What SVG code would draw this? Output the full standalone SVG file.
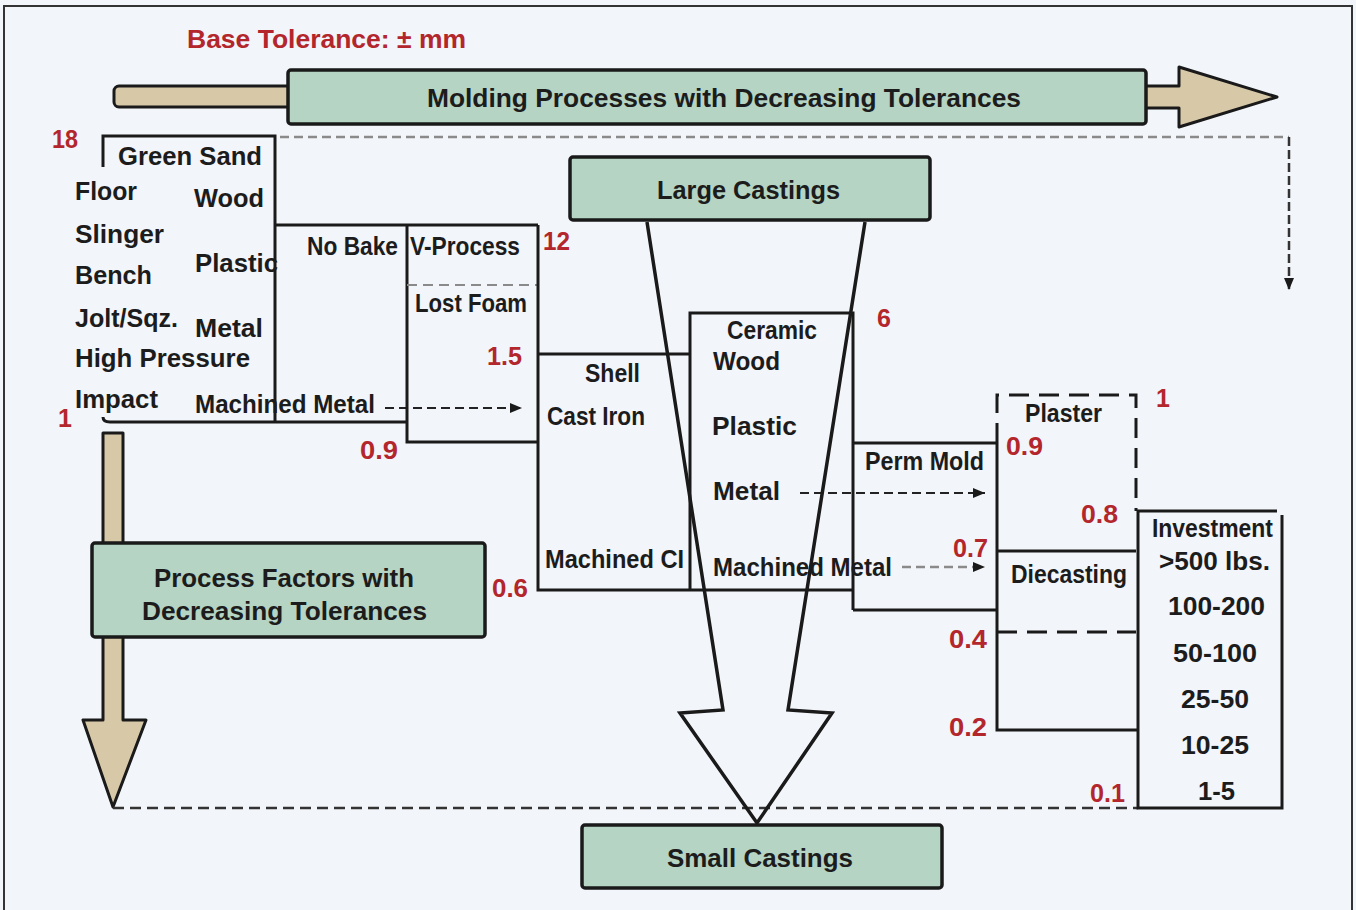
<svg xmlns="http://www.w3.org/2000/svg" width="1356" height="910" viewBox="0 0 1356 910">
<defs>
<style>
.t{font-family:"Liberation Sans Narrow","Liberation Sans",Arial,sans-serif;font-weight:bold;font-size:26px;fill:#1c1c1c}
.r{font-family:"Liberation Sans Narrow","Liberation Sans",Arial,sans-serif;font-weight:bold;font-size:25px;fill:#b3262c}
.ln{stroke:#1a1a1a;stroke-width:3;fill:none}
.gb{fill:#b5d4c4;stroke:#1a1a1a;stroke-width:3.5}
.bg{fill:#d7c8a8;stroke:#1a1a1a;stroke-width:3;stroke-linejoin:round}
.dk{stroke:#222;stroke-width:2;stroke-dasharray:9 5;fill:none}
.gr{stroke:#8a8a8a;stroke-width:2.5;stroke-dasharray:9 5;fill:none}
.bx{stroke:#1a1a1a;stroke-width:3;stroke-dasharray:20 10;fill:none}
</style>
<marker id="ah" viewBox="0 0 12 10" refX="12" refY="5" markerWidth="12" markerHeight="10" markerUnits="userSpaceOnUse" orient="auto">
<path d="M0,0 L12,5 L0,10 z" fill="#1a1a1a"/>
</marker>
</defs>
<rect x="0" y="0" width="1356" height="910" fill="#f2f5f9"/>
<rect x="4" y="6" width="1348" height="920" fill="none" stroke="#333" stroke-width="2"/>

<text id="title" class="r" x="187" y="48" font-size="27" textLength="279" lengthAdjust="spacingAndGlyphs">Base Tolerance: ± mm</text>

<g id="molding-arrow">
<rect class="bg" x="114" y="86" width="180" height="21" rx="5"/>
<path class="bg" d="M1140,86 H1179 V67 L1277,97 L1179,127 V108 H1140 Z"/>
<rect class="gb" x="288" y="70" width="858" height="54" rx="3"/>
<text class="t" x="427" y="107" font-size="25" textLength="594" lengthAdjust="spacingAndGlyphs">Molding Processes with Decreasing Tolerances</text>
</g>

<g id="process-factors-arrow">
<path class="bg" d="M103,433 H123 V720 H146 L113,807 L83,720 H103 Z"/>
<rect class="gb" x="92" y="543" width="393" height="94" rx="3"/>
<text class="t" x="154" y="587" textLength="260" lengthAdjust="spacingAndGlyphs">Process Factors with</text>
<text class="t" x="142" y="620" textLength="285" lengthAdjust="spacingAndGlyphs">Decreasing Tolerances</text>
</g>

<g id="connectors">
<path class="gr" d="M280,137 H1289"/>
<path d="M1289,137 V290" stroke="#333" stroke-width="2.5" stroke-dasharray="9 4" fill="none" marker-end="url(#ah)"/>
<path class="dk" d="M385,408 H522" marker-end="url(#ah)"/>
<path class="dk" d="M800,493 H985" marker-end="url(#ah)"/>
<path class="gr" d="M902,567 H985" stroke-width="2" marker-end="url(#ah)"/>
<path d="M113,808 H1138" stroke="#333" stroke-width="2.5" stroke-dasharray="11 6" fill="none"/>
</g>

<g id="green-sand">
<path class="ln" d="M103,167 V136 H275 V422"/>
<path class="ln" d="M103,417 Q103,422 110,422 H407"/>
<text class="t" x="118" y="165" textLength="144" lengthAdjust="spacingAndGlyphs">Green Sand</text>
<text class="t" x="75" y="200" textLength="62" lengthAdjust="spacingAndGlyphs">Floor</text>
<text class="t" x="194" y="207" textLength="70" lengthAdjust="spacingAndGlyphs">Wood</text>
<text class="t" x="75" y="243" textLength="89" lengthAdjust="spacingAndGlyphs">Slinger</text>
<text class="t" x="195" y="272" textLength="83" lengthAdjust="spacingAndGlyphs">Plastic</text>
<text class="t" x="75" y="284" textLength="77" lengthAdjust="spacingAndGlyphs">Bench</text>
<text class="t" x="75" y="327" textLength="103" lengthAdjust="spacingAndGlyphs">Jolt/Sqz.</text>
<text class="t" x="195" y="337" textLength="68" lengthAdjust="spacingAndGlyphs">Metal</text>
<text class="t" x="75" y="367" textLength="175" lengthAdjust="spacingAndGlyphs">High Pressure</text>
<text class="t" x="75" y="408" textLength="83" lengthAdjust="spacingAndGlyphs">Impact</text>
<text class="t" x="195" y="413" textLength="180" lengthAdjust="spacingAndGlyphs">Machined Metal</text>
<text class="r" x="52" y="148" textLength="26" lengthAdjust="spacingAndGlyphs">18</text>
<text class="r" x="58" y="427">1</text>
</g>

<g id="no-bake">
<path class="ln" d="M275,225 H538"/>
<text class="t" x="307" y="255" textLength="91" lengthAdjust="spacingAndGlyphs">No Bake</text>
</g>

<g id="v-process">
<path class="ln" d="M407,225 V442 H538"/>
<path d="M407,285 H538" stroke="#8a8a8a" stroke-width="2" stroke-dasharray="10 6"/>
<text class="t" x="410" y="255" textLength="110" lengthAdjust="spacingAndGlyphs">V-Process</text>
<text class="t" x="415" y="312" textLength="112" lengthAdjust="spacingAndGlyphs">Lost Foam</text>
<text class="r" x="543" y="250" textLength="27" lengthAdjust="spacingAndGlyphs">12</text>
<text class="r" x="487" y="365" textLength="35" lengthAdjust="spacingAndGlyphs">1.5</text>
<text class="r" x="360" y="459" textLength="38" lengthAdjust="spacingAndGlyphs">0.9</text>
</g>

<g id="shell">
<path class="ln" d="M538,225 V590 H690"/>
<path class="ln" d="M538,354 H690"/>
<text class="t" x="585" y="382" textLength="55" lengthAdjust="spacingAndGlyphs">Shell</text>
<text class="t" x="547" y="425" textLength="98" lengthAdjust="spacingAndGlyphs">Cast Iron</text>
<text class="t" x="545" y="568" textLength="139" lengthAdjust="spacingAndGlyphs">Machined CI</text>
<text class="r" x="492" y="597" textLength="36" lengthAdjust="spacingAndGlyphs">0.6</text>
</g>

<g id="ceramic">
<path class="ln" d="M690,590 V313 H853 V610"/>
<path class="ln" d="M690,590 H853"/>
<text class="t" x="727" y="339" textLength="90" lengthAdjust="spacingAndGlyphs">Ceramic</text>
<text class="t" x="713" y="370" textLength="67" lengthAdjust="spacingAndGlyphs">Wood</text>
<text class="t" x="712" y="435" textLength="85" lengthAdjust="spacingAndGlyphs">Plastic</text>
<text class="t" x="713" y="500" textLength="67" lengthAdjust="spacingAndGlyphs">Metal</text>
<text class="t" x="713" y="576" textLength="179" lengthAdjust="spacingAndGlyphs">Machined Metal</text>
<text class="r" x="877" y="327">6</text>
</g>

<g id="perm-mold">
<path class="ln" d="M853,443 H997"/>
<path class="ln" d="M853,610 H997"/>
<text class="t" x="865" y="470" textLength="119" lengthAdjust="spacingAndGlyphs">Perm Mold</text>
<text class="r" x="953" y="557" textLength="35" lengthAdjust="spacingAndGlyphs">0.7</text>
</g>

<g id="plaster">
<path class="bx" d="M997,443 V395 H1136 V511"/>
<path class="ln" d="M997,443 V730 H1138"/>
<text class="t" x="1025" y="422" textLength="77" lengthAdjust="spacingAndGlyphs">Plaster</text>
<text class="r" x="1006" y="455" textLength="37" lengthAdjust="spacingAndGlyphs">0.9</text>
<text class="r" x="1156" y="407">1</text>
<text class="r" x="1081" y="523" textLength="37" lengthAdjust="spacingAndGlyphs">0.8</text>
</g>

<g id="diecasting">
<path class="ln" d="M997,551 H1136"/>
<path class="bx" d="M997,632 H1136"/>
<text class="t" x="1011" y="583" textLength="116" lengthAdjust="spacingAndGlyphs">Diecasting</text>
<text class="r" x="949" y="648" textLength="38" lengthAdjust="spacingAndGlyphs">0.4</text>
<text class="r" x="949" y="736" textLength="38" lengthAdjust="spacingAndGlyphs">0.2</text>
</g>

<g id="investment">
<path class="ln" d="M1277,511 H1138 V808 H1282 V515"/>
<text class="t" x="1152" y="537" font-size="25" textLength="121" lengthAdjust="spacingAndGlyphs">Investment</text>
<text class="t" x="1159" y="570" textLength="111" lengthAdjust="spacingAndGlyphs">&gt;500 lbs.</text>
<text class="t" x="1168" y="615" textLength="97" lengthAdjust="spacingAndGlyphs">100-200</text>
<text class="t" x="1173" y="662" textLength="84" lengthAdjust="spacingAndGlyphs">50-100</text>
<text class="t" x="1181" y="708" textLength="68" lengthAdjust="spacingAndGlyphs">25-50</text>
<text class="t" x="1181" y="754" textLength="68" lengthAdjust="spacingAndGlyphs">10-25</text>
<text class="t" x="1198" y="800" textLength="37" lengthAdjust="spacingAndGlyphs">1-5</text>
<text class="r" x="1090" y="802" textLength="35" lengthAdjust="spacingAndGlyphs">0.1</text>
</g>

<g id="size-funnel">
<path d="M647,222 L723,710 L680,713 L757,823 L832,713 L788,710 L865,222" fill="none" stroke="#1a1a1a" stroke-width="3.5" stroke-linejoin="miter"/>
</g>

<g id="large-castings">
<rect class="gb" x="570" y="157" width="360" height="63" rx="3"/>
<text class="t" x="657" y="199" textLength="183" lengthAdjust="spacingAndGlyphs">Large Castings</text>
</g>

<g id="small-castings">
<rect class="gb" x="582" y="825" width="360" height="63" rx="3"/>
<text class="t" x="667" y="867" textLength="186" lengthAdjust="spacingAndGlyphs">Small Castings</text>
</g>
</svg>
